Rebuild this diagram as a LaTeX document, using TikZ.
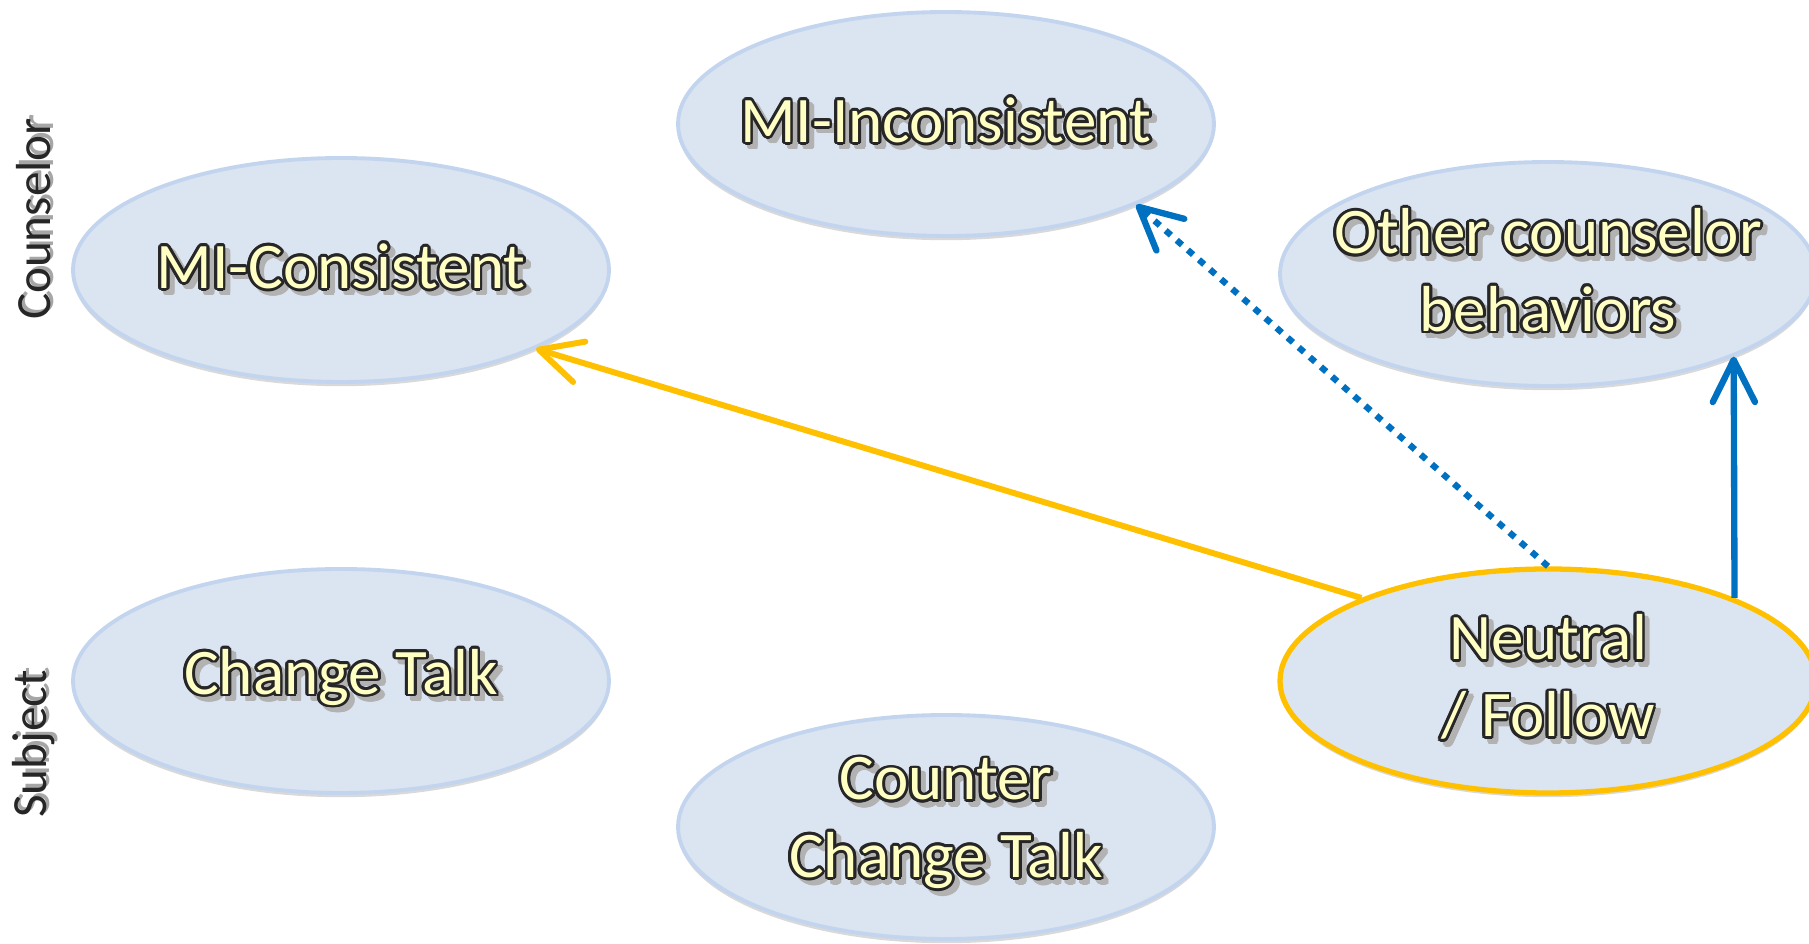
\documentclass[tikz,border=0pt]{standalone}
\usepackage{fontspec}
\setmainfont{Carlito}
\usepackage{contour}
\usetikzlibrary{shapes.geometric,arrows.meta,shadows}

\definecolor{bubble}{RGB}{219,228,241}
\definecolor{bubbleline}{RGB}{195,213,238}
\definecolor{gold}{RGB}{255,192,0}
\definecolor{msblue}{RGB}{0,112,192}
\definecolor{lemon}{RGB}{255,255,196}

\contourlength{0.8pt}
% outlined text with a soft shadow
\newcommand{\glow}[1]{\rlap{\hspace{1.4pt}\raisebox{-1.4pt}{\color{black!30}\contour{black!30}{#1}}}{\color{lemon}\contour{black!85}{#1}}}
\newcommand{\sidetext}[1]{\rlap{\hspace{1pt}\raisebox{-1pt}{\color{black!35}#1}}{\color{black!85}#1}}

\begin{document}
\begin{tikzpicture}[
    bubble/.style={ellipse, draw=bubbleline, line width=1.1pt, fill=bubble,
        minimum width=5.36cm, minimum height=2.24cm, inner sep=-5mm, align=center,
        font=\fontsize{18.5}{22}\selectfont,
        drop shadow={shadow xshift=0pt, shadow yshift=-1.2pt, opacity=.3}},
    side/.style={rotate=90, font=\fontsize{14}{16}\selectfont},
    goldarrow/.style={draw=gold, line width=1.7pt, -{Straight Barb[length=12pt,width=12pt,round]}},
    bluearrow/.style={draw=msblue, line width=1.8pt, -{Straight Barb[length=12pt,width=12pt,round]}}
]
    \useasboundingbox (0,0) rectangle (18.09,9.44);

    \node[side] (couns) at (0.35,7.25) {\sidetext{Counselor}};
    \node[side] (subj) at (0.35,2.00) {\sidetext{Subject}};

    \node[bubble] (mic) at (3.41,6.74) {\glow{MI-Consistent}};
    \node[bubble] (mii) at (9.46,8.20) {\glow{MI-Inconsistent}};
    \node[bubble] (other) at (15.48,6.70) {\glow{Other counselor}\\\glow{behaviors}};
    \node[bubble] (change) at (3.41,2.63) {\glow{Change Talk}};
    \node[bubble] (counter) at (9.46,1.17) {\glow{Counter}\\\glow{Change Talk}};
    \node[bubble, draw=gold, line width=1.5pt] (neutral) at (15.48,2.63) {\glow{Neutral}\\\glow{/ Follow}};

    \draw[goldarrow] (neutral.156) -- (mic.-22);
    \draw[bluearrow, dash pattern=on 2pt off 2.2pt] (neutral.north) -- (mii.-23);
    \draw[bluearrow] (neutral.24) -- (other.-24);
\end{tikzpicture}
\end{document}
